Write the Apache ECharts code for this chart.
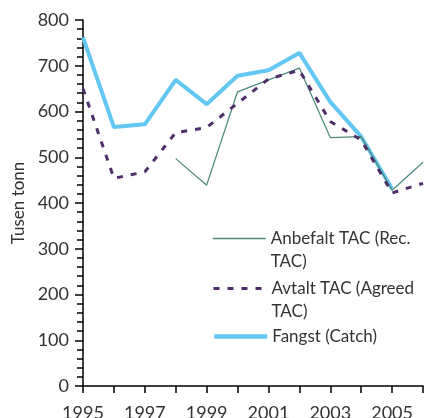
<!DOCTYPE html>
<html lang="no">
<head>
    <meta charset="UTF-8">
    <title>TAC og fangst</title>
    <script src="https://cdn.jsdelivr.net/npm/echarts@6/dist/echarts.min.js"></script>
    <style>
        html, body { margin: 0; padding: 0; background: #fff; }
    </style>
</head>
<body>
<div id="main" style="width: 426px;height:418px;"></div>
<script>
    // år (x-aksen)
    var years = ['1995', '1996', '1997', '1998', '1999', '2000', '2001', '2002', '2003', '2004', '2005', '2006'];
    // tusen tonn
    var anbefalt = [null, null, null, 497, 439, 643, 669, 695, 543, 545, 428, 489];
    var avtalt = [650, 454, 468, 554, 565, 618, 671, 690, 578, 538, 422, 443];
    var fangst = [762, 566, 572, 669, 616, 678, 690, 728, 621, 545, 431, null];

    var fontName = 'Lato';
    var txtColor = '#333';

    var myChart = echarts.init(document.getElementById('main'));

    // en legend per serie, så teksten kan brytes som i originalen
    function legendBox(name, label, top, lineW) {
        return {
            data: [name],
            left: 212,
            top: top,
            padding: 0,
            itemWidth: 53,
            itemHeight: 10,
            selectedMode: false,
            formatter: function () { return label; },
            itemStyle: { color: 'rgba(0,0,0,0)', borderWidth: 0 },
            lineStyle: { width: lineW },
            textStyle: {
                fontFamily: fontName,
                fontSize: 17,
                lineHeight: 23,
                color: txtColor
            }
        };
    }

    myChart.setOption({
        animation: false,
        grid: {
            left: 83,
            right: 3,
            top: 20,
            bottom: 32,
            outerBoundsMode: 'none',
            containLabel: false
        },
        legend: [
            legendBox('Anbefalt TAC (Rec. TAC)', ' \nAnbefalt TAC (Rec.\nTAC)', 204, 1.5),
            legendBox('Avtalt TAC (Agreed TAC)', ' \nAvtalt TAC (Agreed\nTAC)', 254, 3),
            legendBox('Fangst (Catch)', 'Fangst (Catch)', 325, 4.5)
        ],
        xAxis: {
            type: 'category',
            data: years,
            boundaryGap: false,
            axisLine: { lineStyle: { color: '#000', width: 1.5 } },
            axisTick: { interval: 0, length: 7, lineStyle: { color: '#000', width: 1.5 } },
            axisLabel: {
                interval: 1,
                margin: 18,
                fontFamily: fontName,
                fontSize: 18,
                color: txtColor
            },
            splitLine: { show: false }
        },
        yAxis: {
            type: 'value',
            min: 0,
            max: 800,
            interval: 100,
            name: 'Tusen tonn',
            nameLocation: 'middle',
            nameGap: 56,
            nameTextStyle: { fontFamily: fontName, fontSize: 17, color: txtColor },
            axisLine: { show: true, lineStyle: { color: '#000', width: 1.5 } },
            axisTick: { show: true, length: 8, lineStyle: { color: '#000', width: 1.5 } },
            minorTick: { show: true, splitNumber: 5, length: 6, lineStyle: { color: '#000', width: 1.5 } },
            axisLabel: {
                margin: 14,
                fontFamily: fontName,
                fontSize: 18,
                color: txtColor
            },
            splitLine: { show: false }
        },
        series: [{
            name: 'Anbefalt TAC (Rec. TAC)',
            type: 'line',
            data: anbefalt,
            symbol: 'none',
            z: 3,
            lineStyle: { color: '#4f8b80', width: 1.3 },
            itemStyle: { color: '#4f8b80' }
        }, {
            name: 'Avtalt TAC (Agreed TAC)',
            type: 'line',
            data: avtalt,
            symbol: 'none',
            z: 4,
            lineStyle: { color: '#4e2f6c', width: 3, type: [6, 8] },
            itemStyle: { color: '#4e2f6c' }
        }, {
            name: 'Fangst (Catch)',
            type: 'line',
            data: fangst,
            symbol: 'none',
            z: 2,
            lineStyle: { color: '#62c8f3', width: 4 },
            itemStyle: { color: '#62c8f3' }
        }]
    });
</script>
</body>
</html>
